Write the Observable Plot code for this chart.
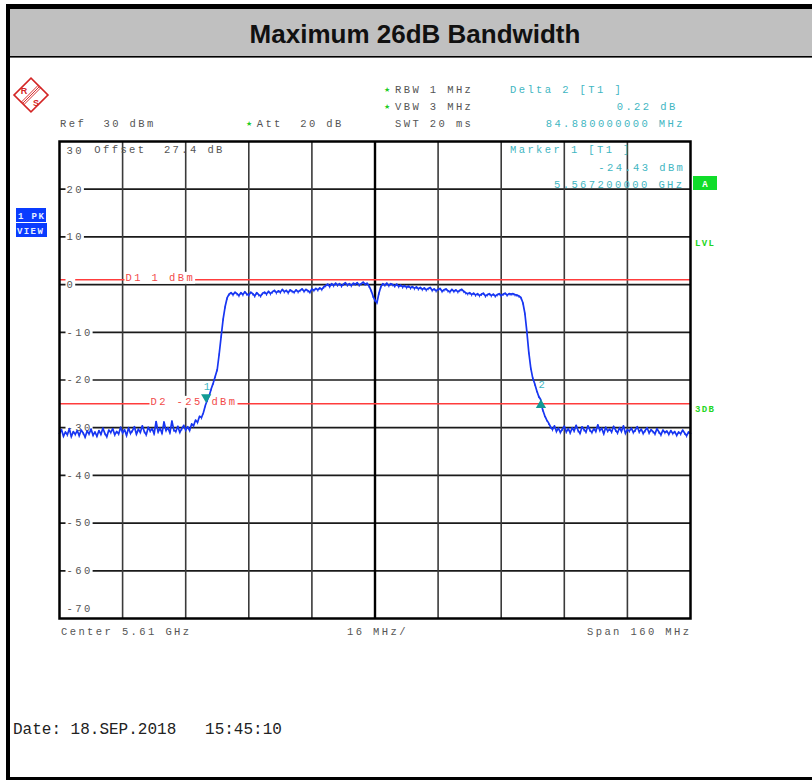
<!DOCTYPE html>
<html><head><meta charset="utf-8">
<script src="https://cdn.jsdelivr.net/npm/d3@7"></script>
<script src="https://cdn.jsdelivr.net/npm/@observablehq/plot@0.6"></script>
<style>html,body{margin:0;padding:0;background:#fff;} svg{display:block}</style>
</head><body><div id="chart"></div>
<script>
// Sweep: start 5.53 GHz, 0.5 MHz per point (center 5.61 GHz, span 160 MHz)
const sweepStartGHz = 5.53;
const sweepStepGHz = 0.0005;
const levels = [
  -31.2,-30.4,-31.8,-30.9,-31.5,-30.2,-31.9,-30.8,-31.4,-30.6,
  -31.7,-30.5,-31.1,-32.0,-30.7,-31.3,-30.3,-31.6,-30.9,-31.8,
  -30.6,-31.4,-30.1,-31.2,-31.9,-30.5,-31.0,-30.2,-31.5,-30.8,
  -31.3,-29.9,-31.1,-30.4,-31.7,-30.0,-31.2,-30.6,-29.8,-31.4,
  -30.3,-31.0,-29.6,-30.8,-31.5,-29.9,-30.7,-30.2,-31.3,-28.7,
  -30.9,-30.1,-31.2,-28.8,-30.6,-30.0,-31.1,-28.6,-30.5,-30.8,
  -29.7,-31.0,-30.2,-29.5,-30.5,-29.8,-30.6,-29.2,-29.6,-28.4,
  -28.9,-27.6,-27.9,-26.8,-25.3,-24.2,-23.2,-21.8,-20.6,-19.2,
  -17.8,-14.5,-10.8,-7.2,-4.6,-2.8,-2.0,-1.7,-2.1,-1.6,
  -1.9,-2.3,-1.7,-2.1,-1.5,-2.0,-2.2,-1.6,-1.9,-2.4,
  -1.7,-2.1,-2.4,-1.8,-1.6,-2.0,-1.4,-1.9,-1.5,-1.2,
  -1.7,-1.3,-1.6,-1.0,-1.5,-1.2,-1.7,-1.1,-1.4,-1.6,
  -1.1,-1.5,-1.2,-0.9,-1.4,-1.0,-1.3,-1.6,-0.9,-1.2,
  -0.8,-1.1,-0.7,-1.0,-0.5,-0.2,0.1,-0.4,0.2,-0.2,
  0.3,-0.1,0.2,-0.3,0.1,0.4,-0.1,0.2,-0.2,0.3,
  0.1,0.4,-0.1,0.2,0.5,0.1,0.3,-0.3,-1.2,-2.4,
  -3.3,-3.8,-1.8,-0.4,0.2,-0.1,0.3,-0.2,0.2,0.0,
  -0.3,0.1,-0.4,-0.1,-0.5,-0.2,-0.6,-0.3,-0.7,-0.4,
  -0.8,-0.5,-0.9,-0.6,-1.0,-0.7,-1.1,-0.8,-0.6,-1.2,
  -0.9,-1.3,-1.0,-0.8,-1.4,-1.1,-0.9,-1.3,-1.5,-1.0,
  -1.4,-1.1,-1.5,-1.2,-1.0,-1.4,-1.7,-1.9,-1.7,-2.1,
  -1.8,-2.2,-1.9,-2.3,-2.0,-1.8,-2.4,-2.1,-1.9,-2.3,
  -2.0,-2.4,-2.1,-1.9,-2.3,-2.0,-1.8,-2.2,-1.9,-2.0,
  -1.9,-2.1,-2.2,-2.4,-2.7,-3.8,-6.0,-9.8,-14.2,-17.5,
  -19.6,-20.8,-22.2,-23.4,-24.1,-26.2,-27.4,-28.3,-29.0,-29.8,
  -30.4,-29.6,-30.8,-30.1,-31.0,-30.3,-29.7,-30.9,-30.2,-31.1,
  -30.0,-30.7,-29.5,-30.6,-31.2,-29.8,-30.4,-30.9,-29.6,-30.5,
  -31.0,-30.2,-30.8,-29.4,-30.6,-30.1,-31.3,-29.9,-30.7,-30.3,
  -30.9,-29.7,-30.5,-31.1,-30.0,-30.8,-29.6,-31.2,-30.4,-30.7,
  -30.1,-31.0,-30.5,-29.8,-30.9,-30.3,-31.2,-30.6,-30.0,-31.1,
  -30.4,-30.8,-31.3,-30.2,-30.9,-31.5,-30.5,-31.0,-30.7,-31.4,
  -30.6,-31.2,-30.8,-31.6,-30.9,-31.3,-30.5,-31.1,-31.7,-30.9,
  -31.2
];
const freqDomain = [5.53, 5.69];
const levelDomain = [-70, 30];
const gridFreqs = [5.546, 5.562, 5.578, 5.594, 5.626, 5.642, 5.658, 5.674];
const centerFreq = [5.61];
const gridLevels = [20, 10, 0, -10, -20, -30, -40, -50, -60];
const levelLabels = ["20", "10", "0", "-10", "-20", "-30", "-40", "-50", "-60"];
const topLevel = [30], topLabel = ["30"];
const bottomLevel = [-70], bottomLabel = ["-70"];
const lineLevels = [1, -25];
const lineLabels = ["D1 1 dBm", "D2 -25 dBm"];
const markerFreqs = [5.5672, 5.65208];
const markerLevels = [-24.43, -24.21];
const markerNames = ["1", "2"];

const trace = levels.map((db, i) => ({f: sweepStartGHz + i * sweepStepGHz, db}));

const mono = "'Liberation Mono', 'DejaVu Sans Mono', monospace";
const gray = "#555";
const teal = "#3fb6c2";
const red = "#f24a4a";
const traceBlue = "#1836f2";

const plot = Plot.plot({
  width: 812, height: 780,
  marginLeft: 59, marginRight: 122, marginTop: 141, marginBottom: 162,
  x: {domain: freqDomain, axis: null},
  y: {domain: levelDomain, axis: null},
  style: {fontFamily: mono, fontSize: "10.5px", letterSpacing: "2.4px", whiteSpace: "pre", background: "white", overflow: "visible"},
  marks: [
    Plot.ruleY(gridLevels, {stroke: "#1a1a1a", strokeWidth: 1.7}),
    Plot.ruleX(gridFreqs, {stroke: "#3a3a3a", strokeWidth: 1.6}),
    Plot.ruleX(centerFreq, {stroke: "#000", strokeWidth: 2.4}),
    Plot.ruleY(lineLevels, {stroke: "#ff3c3c", strokeWidth: 1.5}),
    Plot.text(gridLevels, {y: d => d, text: (d, i) => levelLabels[i], frameAnchor: "left", dx: 7, textAnchor: "start", fill: gray}),
    Plot.text(topLevel, {y: d => d, text: (d, i) => topLabel[i], frameAnchor: "left", dx: 7, dy: 9, textAnchor: "start", fill: gray}),
    Plot.text(bottomLevel, {y: d => d, text: (d, i) => bottomLabel[i], frameAnchor: "left", dx: 7, dy: -10, textAnchor: "start", fill: gray}),
    Plot.text([lineLevels[0]], {y: d => d, text: () => lineLabels[0], frameAnchor: "left", dx: 66, dy: 1, lineAnchor: "bottom", textAnchor: "start", fill: red}),
    Plot.text([lineLevels[1]], {y: d => d, text: () => lineLabels[1], frameAnchor: "left", dx: 91, dy: 1, lineAnchor: "bottom", textAnchor: "start", fill: red}),
    Plot.line(trace, {x: "f", y: "db", stroke: traceBlue, strokeWidth: 1.7}),
    // each sweep sample drawn as a short tick, as the analyzer does
    Plot.ruleX(trace, {x: "f", y1: "db", y2: d => d.db - 0.5, stroke: traceBlue, strokeWidth: 1, strokeOpacity: 0.85}),
    Plot.dot([0], {x: i => markerFreqs[i], y: i => markerLevels[i], symbol: "triangle", r: 3.8, rotate: 180, dy: -4, fill: "#129a94", stroke: "none"}),
    Plot.dot([1], {x: i => markerFreqs[i], y: i => markerLevels[i], symbol: "triangle", r: 3.8, dy: 5, fill: "#129a94", stroke: "none"}),
    Plot.text([0, 1], {x: i => markerFreqs[i], y: i => markerLevels[i], text: i => markerNames[i], dx: 2, dy: -15, fill: teal}),
    Plot.frame({stroke: "#000", strokeWidth: 2.5})
  ]
});
document.getElementById("chart").appendChild(plot);

const svg = d3.select(plot);

// white background boxes behind the level and display-line labels
const bgTexts = new Set([...levelLabels, ...topLabel, ...bottomLabel, ...lineLabels]);
svg.selectAll("text").each(function() {
  if (!bgTexts.has(this.textContent)) return;
  const bb = this.getBBox();
  const r = document.createElementNS("http://www.w3.org/2000/svg", "rect");
  r.setAttribute("x", bb.x - 1);
  r.setAttribute("y", bb.y);
  r.setAttribute("width", bb.width + 1);
  r.setAttribute("height", bb.height);
  r.setAttribute("fill", "white");
  const t = this.getAttribute("transform");
  if (t) r.setAttribute("transform", t);
  this.parentNode.insertBefore(r, this);
});

// page frame and title band
const bg = svg.insert("g", ":first-child");
bg.append("rect").attr("x", 6).attr("y", 4).attr("width", 806).attr("height", 5).attr("fill", "#000");
bg.append("rect").attr("x", 6).attr("y", 4).attr("width", 4).attr("height", 776).attr("fill", "#000");
bg.append("rect").attr("x", 6).attr("y", 777).attr("width", 806).attr("height", 3).attr("fill", "#000");
bg.append("rect").attr("x", 10).attr("y", 9).attr("width", 802).attr("height", 47).attr("fill", "#c0c0c0");
bg.append("rect").attr("x", 10).attr("y", 56).attr("width", 802).attr("height", 1.6).attr("fill", "#000");

const ann = svg.append("g").attr("text-anchor", "start");
function label(x, y, s, fill, extra = {}) {
  const t = ann.append("text").attr("x", x).attr("y", y).attr("fill", fill).attr("text-anchor", "start").text(s);
  for (const [k, v] of Object.entries(extra)) t.style(k, v);
  return t;
}
label(415, 43, "Maximum 26dB Bandwidth", "#111", {"font-family": "'Liberation Sans', Arial, sans-serif", "font-weight": "bold", "font-size": "26px", "letter-spacing": "0px"}).attr("text-anchor", "middle");

const star = {"font-family": "'DejaVu Sans', sans-serif", "font-size": "7px", "letter-spacing": "0px"};
label(60, 127, "Ref  30 dBm", gray);
label(246, 126, "★", "#22cc22", star);
label(256.7, 127, "Att  20 dB", gray);
label(384, 92, "★", "#22cc22", star);
label(395, 93, "RBW 1 MHz", gray);
label(384, 109, "★", "#22cc22", star);
label(395, 110, "VBW 3 MHz", gray);
label(395, 127, "SWT 20 ms", gray);
label(510, 93, "Delta 2 [T1 ]", teal);
label(616.7, 110, "0.22 dB", teal);
label(545.7, 127, "84.880000000 MHz", teal);
label(510, 153, "Marker 1 [T1 ]", teal);
label(598.3, 171, "-24.43 dBm", teal);
label(554, 188, "5.567200000 GHz", teal);
label(94.3, 153, "Offset  27.4 dB", gray);
label(61, 635, "Center 5.61 GHz", gray);
label(347, 635, "16 MHz/", gray);
label(587, 635, "Span 160 MHz", gray);
label(695, 246, "LVL", "#22d622", {"font-weight": "bold", "letter-spacing": "1.3px", "font-size": "9px"});
label(695, 412, "3DB", "#22d622", {"font-weight": "bold", "letter-spacing": "1.3px", "font-size": "9px"});
label(13, 734, "Date: 18.SEP.2018   15:45:10", "#222", {"font-size": "16px", "letter-spacing": "0px"});

// green "A" box
ann.append("rect").attr("x", 693).attr("y", 176).attr("width", 24).attr("height", 14).attr("fill", "#10dd2a");
label(705, 187, "A", "#fff", {"font-weight": "bold", "font-size": "9px", "letter-spacing": "0px"}).attr("text-anchor", "middle");
// blue trace boxes
ann.append("rect").attr("x", 16).attr("y", 208).attr("width", 30).attr("height", 14).attr("fill", "#0a3cff");
label(18, 219, "1 PK", "#e8f0ff", {"font-weight": "bold", "font-size": "9px", "letter-spacing": "1.4px"});
ann.append("rect").attr("x", 16).attr("y", 223).attr("width", 31).attr("height", 14).attr("fill", "#0a3cff");
label(17, 234, "VIEW", "#e8f0ff", {"font-weight": "bold", "font-size": "9px", "letter-spacing": "1.4px"});

// R&S logo
const logo = ann.append("g").attr("transform", "translate(31,95)");
const lg = logo.append("g").attr("transform", "rotate(45)").attr("fill", "none").attr("stroke", "#d42525");
lg.append("rect").attr("x", -12).attr("y", -12).attr("width", 24).attr("height", 24).attr("stroke-width", 1.6);
lg.append("line").attr("x1", -1.8).attr("x2", -1.8).attr("y1", -12).attr("y2", 12).attr("stroke-width", 0.9);
lg.append("line").attr("x1", 0).attr("x2", 0).attr("y1", -12).attr("y2", 12).attr("stroke-width", 0.9);
lg.append("line").attr("x1", 1.8).attr("x2", 1.8).attr("y1", -12).attr("y2", 12).attr("stroke-width", 0.9);
logo.append("text").attr("x", -7).attr("y", -1).attr("fill", "#d42525").attr("text-anchor", "middle")
  .style("font-family", "'Liberation Sans', sans-serif").style("font-weight", "bold").style("font-size", "9px").style("letter-spacing", "0px").text("R");
logo.append("text").attr("x", 5).attr("y", 11).attr("fill", "#d42525").attr("text-anchor", "middle")
  .style("font-family", "'Liberation Sans', sans-serif").style("font-weight", "bold").style("font-size", "9px").style("letter-spacing", "0px").text("S");
</script>
</body></html>
